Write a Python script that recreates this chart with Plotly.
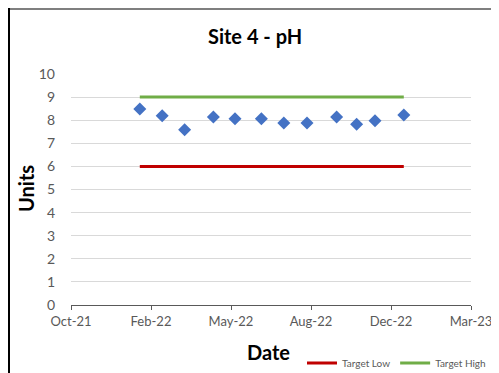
import plotly.graph_objects as go

dates = ["2022-01-25", "2022-02-22", "2022-03-22", "2022-04-27", "2022-05-24", "2022-06-26",
         "2022-07-24", "2022-08-22", "2022-09-28", "2022-10-23", "2022-11-15", "2022-12-21"]
ph_values = [8.48, 8.19, 7.59, 8.14, 8.06, 8.06, 7.88, 7.88, 8.14, 7.83, 7.98, 8.22]
target_low = [6, 6]
target_high = [9, 9]
target_dates = [dates[0], dates[-1]]
tick_dates = ["2021-10-31", "2022-02-08", "2022-05-19", "2022-08-27", "2022-12-05", "2023-03-15"]
tick_labels = ["Oct-21", "Feb-22", "May-22", "Aug-22", "Dec-22", "Mar-23"]

# page body has an 8px margin; work in page pixels and convert
OFF = 8
W, H = 499, 373
PL, PR, PT, PB = 71, 471, 74, 305  # plot area in page pixels
L = PL - OFF
T = PT - OFF
R = W - (PR - OFF)
B = H - (PB - OFF)
pw, ph = W - L - R, H - T - B

def px(x):
    return (x - OFF - L) / pw

def py(y):
    return (H - B - (y - OFF)) / ph

FONT = "Lato"

fig = go.Figure()
fig.add_trace(go.Scatter(x=dates, y=ph_values, mode="markers", showlegend=False,
                         marker=dict(symbol="diamond", size=10, color="#4472C4")))
fig.add_trace(go.Scatter(x=target_dates, y=target_low, mode="lines", name="Target Low",
                         line=dict(color="#C00000", width=3)))
fig.add_trace(go.Scatter(x=target_dates, y=target_high, mode="lines", name="Target High",
                         line=dict(color="#70AD47", width=3)))

fig.update_layout(
    width=W, height=H, margin=dict(l=L, r=R, t=T, b=B, autoexpand=False),
    paper_bgcolor="white", plot_bgcolor="white",
    font=dict(family=FONT, color="#595959"),
    showlegend=True,
    legend=dict(orientation="h", x=px(302), y=py(363), xanchor="left", yanchor="middle",
                font=dict(size=10, color="#595959"), itemwidth=30, tracegroupgap=0,
                bgcolor="rgba(0,0,0,0)"),
    xaxis=dict(type="date", range=[tick_dates[0], tick_dates[-1]], tickvals=tick_dates,
               ticktext=tick_labels, showgrid=False, showline=True, linecolor="#595959",
               linewidth=1, ticks="outside", ticklen=4, tickcolor="#595959",
               tickfont=dict(size=13, color="#595959"), zeroline=False),
    yaxis=dict(range=[0, 10], dtick=1, showgrid=True, gridcolor="#D9D9D9", gridwidth=1,
               showline=False, zeroline=False, tickfont=dict(size=14, color="#595959"),
               ticks="", ticklabelstandoff=15),
    shapes=[
        dict(type="line", xref="paper", yref="paper", x0=px(9), x1=px(560), y0=py(9), y1=py(9),
             line=dict(color="#7F7F7F", width=2)),
        dict(type="line", xref="paper", yref="paper", x0=px(9), x1=px(9), y0=py(8), y1=py(420),
             line=dict(color="#000000", width=2)),
    ],
    annotations=[
        dict(text="<b>Site 4 - pH</b>", xref="paper", yref="paper", x=px(255), y=py(36),
             showarrow=False, xanchor="center", yanchor="middle",
             font=dict(family=FONT, size=20, color="#000000")),
        dict(text="<b>Units</b>", xref="paper", yref="paper", x=px(26), y=py(189),
             showarrow=False, xanchor="center", yanchor="middle", textangle=-90,
             font=dict(family=FONT, size=20, color="#000000")),
        dict(text="<b>Date</b>", xref="paper", yref="paper", x=px(268), y=py(352),
             showarrow=False, xanchor="center", yanchor="middle",
             font=dict(family=FONT, size=20, color="#000000")),
    ],
)

fig.write_html("out.html")
